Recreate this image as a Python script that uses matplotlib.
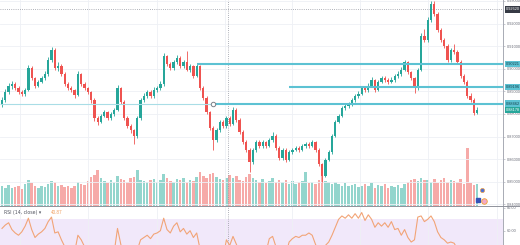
import matplotlib
matplotlib.use('Agg')
import matplotlib.pyplot as plt
from matplotlib.lines import Line2D
from matplotlib.patches import Rectangle
import numpy as np

plt.rcParams['font.family'] = ['Liberation Sans', 'DejaVu Sans']

# ---------------- data ----------------
opens = [0.8840,0.8862,0.8897,0.8924,0.8933,0.8915,0.8897,0.8889,0.8906,0.9003,
0.8959,0.8924,0.8942,0.8959,0.8977,0.9039,0.9083,0.9003,0.9012,0.8977,
0.8933,0.8915,0.8906,0.8884,0.8977,0.8933,0.8915,0.8897,0.8862,0.8782,
0.8765,0.8791,0.8809,0.8782,0.8800,0.8818,0.8915,0.8853,0.8782,0.8747,
0.8729,0.8703,0.8782,0.8862,0.8880,0.8897,0.8880,0.8906,0.8915,0.8933,
0.9056,0.9021,0.9003,0.9030,0.9048,0.9012,0.9030,0.8995,0.9012,0.8968,
0.9012,0.8915,0.8871,0.8809,0.8738,0.8685,0.8729,0.8765,0.8747,0.8782,
0.8756,0.8818,0.8774,0.8721,0.8676,0.8641,0.8588,0.8641,0.8676,0.8659,
0.8676,0.8659,0.8685,0.8703,0.8650,0.8606,0.8641,0.8597,0.8632,0.8641,
0.8650,0.8641,0.8659,0.8668,0.8659,0.8676,0.8641,0.8579,0.8526,0.8597,
0.8632,0.8703,0.8765,0.8791,0.8827,0.8836,0.8844,0.8862,0.8880,0.8889,
0.8915,0.8906,0.8924,0.8950,0.8906,0.8942,0.8959,0.8950,0.8942,0.8950,
0.8968,0.8977,0.8995,0.9030,0.8986,0.8959,0.8915,0.8995,0.9145,0.9127,
0.9216,0.9286,0.9242,0.9171,0.9127,0.9101,0.9039,0.9083,0.9074,0.9030,
0.8968,0.8942,0.8880,0.8862,0.8805]

closes = [0.8862,0.8897,0.8924,0.8933,0.8915,0.8897,0.8889,0.8906,0.9003,0.8959,
0.8924,0.8942,0.8959,0.8977,0.9039,0.9083,0.9003,0.9012,0.8977,0.8933,
0.8915,0.8906,0.8884,0.8977,0.8933,0.8915,0.8897,0.8862,0.8782,0.8765,
0.8791,0.8809,0.8782,0.8800,0.8818,0.8915,0.8853,0.8782,0.8747,0.8729,
0.8703,0.8782,0.8862,0.8880,0.8897,0.8880,0.8906,0.8915,0.8933,0.9056,
0.9021,0.9003,0.9030,0.9048,0.9012,0.9030,0.8995,0.9012,0.8968,0.9012,
0.8915,0.8871,0.8809,0.8738,0.8685,0.8729,0.8765,0.8747,0.8782,0.8756,
0.8818,0.8774,0.8721,0.8676,0.8641,0.8588,0.8641,0.8676,0.8659,0.8676,
0.8659,0.8685,0.8703,0.8650,0.8606,0.8641,0.8597,0.8632,0.8641,0.8650,
0.8641,0.8659,0.8668,0.8659,0.8676,0.8641,0.8579,0.8526,0.8597,0.8632,
0.8703,0.8765,0.8791,0.8827,0.8836,0.8844,0.8862,0.8880,0.8889,0.8915,
0.8906,0.8924,0.8950,0.8906,0.8942,0.8959,0.8950,0.8942,0.8950,0.8968,
0.8977,0.8995,0.9030,0.8986,0.8959,0.8915,0.8995,0.9145,0.9127,0.9216,
0.9286,0.9242,0.9171,0.9127,0.9101,0.9039,0.9083,0.9074,0.9030,0.8968,
0.8942,0.8880,0.8862,0.8805,0.8818]

highs = [0.8875,0.8910,0.8938,0.8945,0.8940,0.8922,0.8905,0.8915,0.9015,0.9010,
0.8965,0.8950,0.8968,0.8988,0.9050,0.9098,0.9090,0.9030,0.9020,0.8985,
0.8940,0.8925,0.8912,0.8990,0.8982,0.8940,0.8920,0.8902,0.8870,0.8792,
0.8800,0.8818,0.8815,0.8810,0.8828,0.8928,0.8920,0.8860,0.8790,0.8755,
0.8735,0.8790,0.8870,0.8892,0.8908,0.8905,0.8918,0.8925,0.8945,0.9070,
0.9062,0.9030,0.9040,0.9060,0.9055,0.9040,0.9080,0.9022,0.9018,0.9025,
0.9018,0.8922,0.8878,0.8815,0.8745,0.8738,0.8775,0.8772,0.8790,0.8790,
0.8830,0.8825,0.8780,0.8728,0.8685,0.8650,0.8650,0.8685,0.8685,0.8685,
0.8682,0.8695,0.8720,0.8710,0.8658,0.8650,0.8648,0.8640,0.8650,0.8660,
0.8658,0.8668,0.8678,0.8676,0.8685,0.8682,0.8648,0.8585,0.8605,0.8640,
0.8712,0.8775,0.8800,0.8835,0.8848,0.8855,0.8872,0.8890,0.8900,0.8925,
0.8922,0.8935,0.8962,0.8955,0.8952,0.8970,0.8968,0.8958,0.8962,0.8978,
0.8988,0.9008,0.9040,0.9035,0.8992,0.8965,0.9005,0.9158,0.9175,0.9228,
0.9300,0.9298,0.9250,0.9180,0.9135,0.9108,0.9092,0.9110,0.9082,0.9038,
0.8975,0.8950,0.8892,0.8870,0.8830]

lows = [0.8830,0.8855,0.8890,0.8912,0.8905,0.8888,0.8878,0.8880,0.8900,0.8950,
0.8915,0.8918,0.8935,0.8950,0.8970,0.9030,0.8995,0.8990,0.8968,0.8925,
0.8905,0.8895,0.8872,0.8878,0.8925,0.8905,0.8888,0.8850,0.8770,0.8752,
0.8758,0.8785,0.8772,0.8775,0.8792,0.8812,0.8845,0.8772,0.8738,0.8718,
0.8668,0.8695,0.8775,0.8852,0.8870,0.8870,0.8872,0.8898,0.8908,0.8925,
0.9012,0.8995,0.8995,0.9022,0.9005,0.9005,0.8988,0.8985,0.8960,0.8962,
0.8905,0.8862,0.8800,0.8728,0.8641,0.8678,0.8720,0.8738,0.8740,0.8748,
0.8750,0.8765,0.8712,0.8668,0.8632,0.8545,0.8580,0.8632,0.8650,0.8650,
0.8650,0.8652,0.8678,0.8642,0.8595,0.8598,0.8588,0.8590,0.8625,0.8635,
0.8632,0.8635,0.8650,0.8650,0.8652,0.8632,0.8570,0.8500,0.8520,0.8590,
0.8625,0.8698,0.8758,0.8785,0.8818,0.8828,0.8835,0.8855,0.8872,0.8882,
0.8898,0.8898,0.8918,0.8898,0.8900,0.8935,0.8942,0.8932,0.8935,0.8942,
0.8960,0.8970,0.8988,0.8978,0.8950,0.8892,0.8908,0.8988,0.9118,0.9120,
0.9208,0.9235,0.9162,0.9118,0.9092,0.9030,0.9032,0.9065,0.9022,0.8960,
0.8932,0.8870,0.8852,0.8795,0.8798]

volumes = [30,28,32,27,29,31,26,33,40,35,
 30,28,31,29,33,38,36,30,32,29,
 31,27,30,36,34,32,38,44,47,55,
 42,38,35,40,36,45,41,39,37,42,
 44,55,40,38,36,39,41,37,40,48,
 42,38,36,41,39,43,37,40,38,44,
 52,46,42,48,50,44,41,39,43,47,
 42,45,40,38,44,48,42,39,37,41,
 35,38,42,36,40,37,39,34,38,33,
 36,38,52,35,37,33,40,45,38,36,
 34,37,33,31,35,30,32,34,29,31,
 33,30,35,28,32,30,33,27,31,29,
 32,28,34,36,40,41,38,42,39,40,
 37,41,35,39,42,36,40,38,37,41,
 33,88,35,32,34]

rsi = [62,65,67,61,58,56,59,64,71,61,
 54,57,59,62,68,72,58,59,52,46,
 44,43,41,56,52,46,44,40,33,31,
 36,38,35,38,41,62,48,38,34,32,
 29,43,52,54,56,53,57,58,60,71,
 61,58,64,67,59,62,57,60,54,58,
 44,40,35,30,27,33,38,36,52,47,
 55,48,42,38,35,30,38,42,41,43,
 41,53,55,46,40,45,39,50,53,55,
 54,56,56,58,56,48,42,36,47,50,
 56,63,70,73,71,74,71,75,71,76,
 69,74,70,63,67,64,67,63,68,61,
 62,56,61,54,50,52,72,73,68,70,
 73,68,59,54,52,49,50,49,44,40,
 38,34,33,30,40.87]

level_prices = [0.90221, 0.89196, 0.88462]
level_start = [59, 87, 64]
last_price = 0.88178
cross_price = 0.92620
cross_bar = 68.5
price_ticks = [0.84, 0.85, 0.86, 0.87, 0.88, 0.89, 0.90, 0.91, 0.92, 0.93]
rsi_ticks = [60, 80]
rsi_last_label = "40.87"

# ---------------- figure ----------------
W, H = 520, 245
fig = plt.figure(figsize=(W / 100, H / 100), dpi=100)
fig.patch.set_facecolor('white')

ax_w = 503 / W
main_rect = [0, 39 / H, ax_w, 206 / H]
rsi_rect = [0, 0, ax_w, 39 / H]

vol_ax = fig.add_axes(main_rect, zorder=0)
ax = fig.add_axes(main_rect, zorder=1)
ax.patch.set_visible(False)
rsi_ax = fig.add_axes(rsi_rect, zorder=1)

n = len(closes)
idx = np.arange(n)
o = np.array(opens); c = np.array(closes)
h = np.array(highs); l = np.array(lows)
up = c >= o
ccol = np.where(up, '#26a69a', '#ef5350')
vcol = np.where(up, '#93d5cd', '#f6aaa8')

xlim = (-2 / 3.3, 501 / 3.3)
grid_x = [5.5, 26, 47, 67.5, 88, 108.5, 129, 150]
grid_col = '#eef0f5'
lab_fs = 2.8

# volume
vol_ax.bar(idx, volumes, width=0.78, color=vcol, linewidth=0)
vol_ax.set_xlim(*xlim)
vol_ax.set_ylim(0, 100 * 206 / 66)
vol_ax.axis('off')

# candles
ax.vlines(idx, l, h, colors=ccol, lw=0.6, zorder=3)
body_b = np.minimum(o, c)
body_h = np.maximum(np.abs(c - o), 0.00025)
ax.bar(idx, body_h, bottom=body_b, width=0.72, color=ccol, linewidth=0, zorder=4)

ax.set_xlim(*xlim)
ax.set_ylim(0.8393, 0.9304)
ax.set_xticks(grid_x)
ax.set_xticklabels([])
ax.tick_params(axis='x', length=0)
ax.yaxis.tick_right()
ax.set_yticks(price_ticks)
ax.set_yticklabels([f"{t:.5f}" for t in price_ticks])
ax.tick_params(axis='y', length=1.5, width=0.5, color='#b2b5be', pad=1.0,
               labelsize=lab_fs, labelcolor='#6a6d78')
ax.grid(True, color=grid_col, lw=0.6, zorder=0)
for s in ['top', 'left', 'bottom']:
    ax.spines[s].set_visible(False)
ax.spines['right'].set_color('#a8abb4')
ax.spines['right'].set_linewidth(0.7)

# horizontal levels
lvl_col = '#5cc2d3'
ax.hlines(level_prices[2], xlim[0], level_start[2], color='#a9dde6', lw=0.8, zorder=5)
for p, s in zip(level_prices, level_start):
    ax.hlines(p, s, xlim[1], color=lvl_col, lw=1.5, zorder=5)
ax.plot([level_start[2]], [level_prices[2]], marker='o', ms=3.2, mfc='white',
        mec='#7d8088', mew=0.7, zorder=6)

# crosshair
dot = (0, (1, 1.6))
ax.axhline(cross_price, color='#9598a1', lw=0.6, ls=dot, zorder=2)
ax.axvline(cross_bar, color='#9598a1', lw=0.6, ls=dot, zorder=2)

# price labels on axis
ytr = ax.get_yaxis_transform()
def plabel(y, txt, bg, fg):
    ax.text(1.006, y, txt, transform=ytr, fontsize=lab_fs, color=fg, ha='left',
            va='center', zorder=10, clip_on=False,
            bbox=dict(boxstyle='square,pad=0.3', fc=bg, ec='none'))
for p in level_prices:
    plabel(p, f"{p:.5f}", lvl_col, '#17414b')
plabel(last_price, f"{last_price:.5f}", '#26a69a', 'white')
plabel(cross_price, f"{cross_price:.5f}", '#363a45', 'white')

# ---------------- RSI pane ----------------
rsi_ax.set_xlim(*xlim)
rsi_ax.set_ylim(47.4, 81.76)
rsi_ax.axhspan(30, 70, color='#f1e8fa', zorder=0, lw=0)
rsi_ax.plot(idx, rsi, color='#f2a477', lw=0.8, zorder=3)
rsi_ax.axvline(cross_bar, color='#9598a1', lw=0.6, ls=dot, zorder=2)
rsi_ax.set_xticks(grid_x)
rsi_ax.set_xticklabels([])
rsi_ax.tick_params(axis='x', length=0)
rsi_ax.grid(True, axis='x', color=grid_col, lw=0.6, zorder=1)
rsi_ax.yaxis.tick_right()
rsi_ax.set_yticks(rsi_ticks)
rsi_ax.set_yticklabels([f"{t:.2f}" for t in rsi_ticks])
rsi_ax.tick_params(axis='y', length=1.5, width=0.5, color='#b2b5be', pad=1.0,
                   labelsize=lab_fs, labelcolor='#6a6d78')
for s in ['top', 'left', 'bottom']:
    rsi_ax.spines[s].set_visible(False)
rsi_ax.spines['right'].set_color('#a8abb4')
rsi_ax.spines['right'].set_linewidth(0.7)

# pane separator
fig.add_artist(Line2D([0, 1], [1 - 206 / H, 1 - 206 / H], transform=fig.transFigure,
                      color='#8f929b', lw=0.7))

# RSI header
fig.text(4 / W, 1 - 212.5 / H, "RSI (14, close) \u25be", fontsize=3.3,
         color='#50535e', ha='left', va='center', family=['DejaVu Sans'])
for bx in [34, 39, 44]:
    fig.add_artist(Rectangle((bx / W, 1 - 215 / H), 4 / W, 5 / H, transform=fig.transFigure,
                             fc='#eceef2', ec='#b8bbc4', lw=0.4))
fig.text(51 / W, 1 - 212.5 / H, rsi_last_label, fontsize=3.3, color='#f0a060',
         ha='left', va='center')

# event icons near the last bar
def icon(px, py, **kw):
    fig.add_artist(Line2D([px / W], [1 - py / H], transform=fig.transFigure, ls='none', **kw))
icon(482, 190, marker='o', ms=3.0, mfc='#4b6fd6', mec='#f0a040', mew=0.5)
icon(478, 200, marker='s', ms=3.0, mfc='#3453b8', mec='#3453b8')
icon(483.5, 200.5, marker='o', ms=4.0, mfc='#f3a9c8', mec='#f0a030', mew=0.6)

fig.savefig('out.png', dpi=100, facecolor='white')
